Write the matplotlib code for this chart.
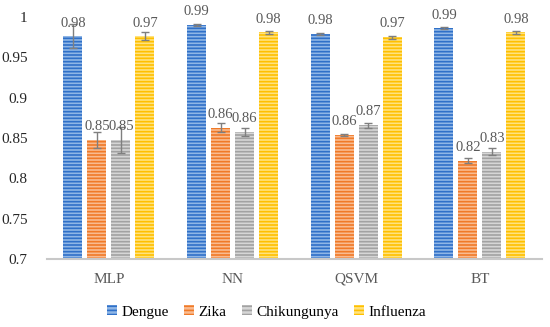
import numpy as np
import matplotlib
matplotlib.use("Agg")
import matplotlib.pyplot as plt
from matplotlib.patches import Patch

plt.rcParams['font.family'] = ['Liberation Serif', 'DejaVu Serif']
plt.rcParams['hatch.linewidth'] = 1.2

models = ["MLP", "NN", "QSVM", "BT"]
diseases = ["Dengue", "Zika", "Chikungunya", "Influenza"]

# mean accuracy per disease, one value per model
dengue = [0.976, 0.990, 0.979, 0.986]
zika = [0.848, 0.863, 0.854, 0.822]
chik = [0.848, 0.858, 0.866, 0.833]
influenza = [0.976, 0.981, 0.975, 0.981]

# error bar half-widths
dengue_err = [0.015, 0.001, 0.001, 0.001]
zika_err = [0.010, 0.005, 0.001, 0.003]
chik_err = [0.016, 0.005, 0.003, 0.004]
influenza_err = [0.005, 0.002, 0.002, 0.002]

# printed labels
dengue_lbl = ["0.98", "0.99", "0.98", "0.99"]
zika_lbl = ["0.85", "0.86", "0.86", "0.82"]
chik_lbl = ["0.85", "0.86", "0.87", "0.83"]
influenza_lbl = ["0.97", "0.98", "0.97", "0.98"]

series = [dengue, zika, chik, influenza]
errs = [dengue_err, zika_err, chik_err, influenza_err]
lbls = [dengue_lbl, zika_lbl, chik_lbl, influenza_lbl]

face = ["#8fb6e6", "#f9bb90", "#d6d6d6", "#ffe27e"]
stripe = ["#2f70c8", "#f07a28", "#a2a2a2", "#ffc000"]

fig = plt.figure(figsize=(5.5, 3.27), dpi=100)
ax = fig.add_axes([0.0855, 0.208, 0.8995, 0.740])

x = np.arange(len(models))
step = 0.194
width = 0.154
for i in range(4):
    pos = x + (i - 1.5) * step
    ax.bar(pos, series[i], width, bottom=0, color=face[i], edgecolor=stripe[i],
           linewidth=0, hatch="-----", zorder=2)
    ax.errorbar(pos, series[i], yerr=errs[i], fmt="none", ecolor="#7f7f7f",
                elinewidth=1, capsize=3, capthick=1, zorder=3)
    for xp, v, t in zip(pos, series[i], lbls[i]):
        ax.annotate(t, (xp, v), xytext=(0, 7), textcoords="offset points",
                    ha="center", va="baseline", fontsize=10.5, color="#595959",
                    annotation_clip=False)

ax.set_ylim(0.7, 1.0)
ax.set_xlim(-0.5, 3.5)
ax.set_yticks([0.7, 0.75, 0.8, 0.85, 0.9, 0.95, 1.0])
ax.set_yticklabels(["0.7", "0.75", "0.8", "0.85", "0.9", "0.95", "1"], fontsize=11,
                   color="#262626")
ax.set_xticks(x)
ax.set_xticklabels(models, fontsize=11, color="#595959")
ax.tick_params(axis="y", length=0, pad=14)
ax.tick_params(axis="x", length=0, pad=10)
for s in ["top", "right", "left"]:
    ax.spines[s].set_visible(False)
ax.spines["bottom"].set_color("#c8c8c8")
ax.spines["bottom"].set_linewidth(1.5)

handles = [Patch(facecolor=face[i], edgecolor=stripe[i], linewidth=0, hatch="----")
           for i in range(4)]
fig.legend(handles, diseases, loc="center", bbox_to_anchor=(0.485, 0.046), ncol=4,
           frameon=False, fontsize=11, handlelength=0.65, handleheight=0.65,
           handletextpad=0.3, columnspacing=1.0)

fig.savefig("out.png", dpi=100)
